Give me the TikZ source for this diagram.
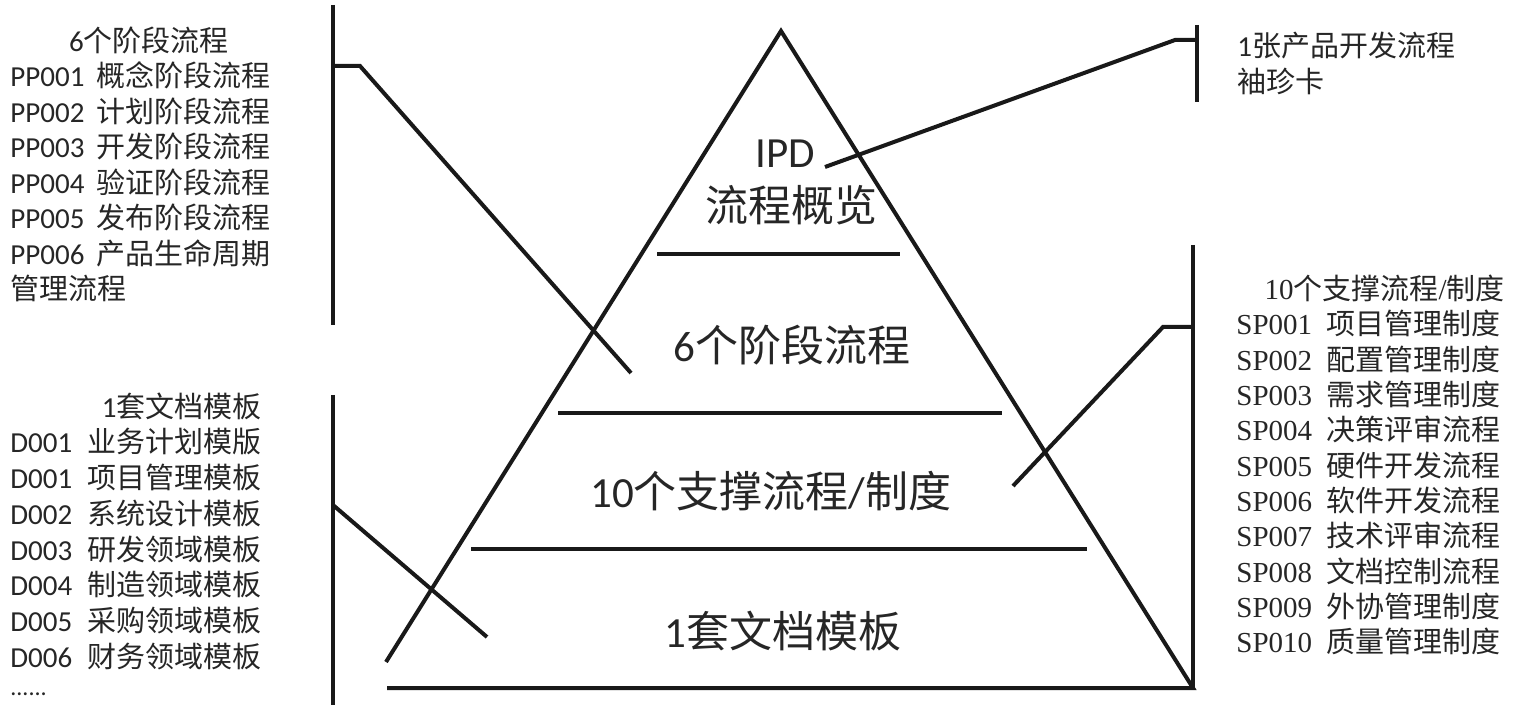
\documentclass[tikz,border=0pt]{standalone}
\usepackage{fontspec}
\setmainfont{Noto Sans CJK SC}
\newfontfamily\lat{Carlito}
\newfontfamily\tms{Liberation Serif}
\begin{document}
\begin{tikzpicture}[x=0.5pt,y=-0.5pt,
  ln/.style={line width=2pt, line cap=butt, line join=miter, draw=black!90},
  lst/.style={inner sep=0pt, anchor=base west, font=\fontsize{14.5}{17}\selectfont, text=black!85},
  big/.style={inner sep=0pt, anchor=base, font=\fontsize{21.5}{25}\selectfont, text=black!85}]
\useasboundingbox (0,0) rectangle (1522,705);

% pyramid
\coordinate (apex) at (781,31);
\coordinate (lb) at (386,662);
\coordinate (bl) at (387,688);
\coordinate (br) at (1193,688);
\draw[ln] (lb) -- (apex) -- (br) -- (bl);
\coordinate (d1a) at (657,254); \coordinate (d1b) at (900,254);
\coordinate (d2a) at (558,413); \coordinate (d2b) at (1002,413);
\coordinate (d3a) at (471,549); \coordinate (d3b) at (1087,549);
\draw[ln] (d1a) -- (d1b);
\draw[ln] (d2a) -- (d2b);
\draw[ln] (d3a) -- (d3b);

% pyramid labels
\node[big] (ipd) at (785,168) {\lat IPD};
\node[big] (gl) at (791,222) {流程概览};
\node[big] (six) at (792,362) {{\lat 6}个阶段流程};
\node[big] (ten) at (771,508) {{\lat 10}个支撑流程{\lat /}制度};
\node[big] (one) at (783,647) {{\lat 1}套文档模板};

% brackets and connectors
\coordinate (ltA) at (333,5); \coordinate (ltB) at (333,325);
\coordinate (ltC) at (333,66); \coordinate (ltD) at (360,66);
\coordinate (ltE) at (631,373);
\draw[ln] (ltA) -- (ltB);
\draw[ln] (ltC) -- (ltD) -- (ltE);

\coordinate (lbA) at (333,395); \coordinate (lbB) at (333,705);
\coordinate (lbC) at (333,505); \coordinate (lbE) at (487,637);
\draw[ln] (lbA) -- (lbB);
\draw[ln] (lbC) -- (lbE);

\coordinate (rtA) at (1197,25); \coordinate (rtB) at (1197,102);
\coordinate (rtC) at (1197,40); \coordinate (rtD) at (1175,40);
\coordinate (rtE) at (825,167);
\draw[ln] (rtA) -- (rtB);
\draw[ln] (rtC) -- (rtD) -- (rtE);

\coordinate (rmA) at (1193,245);
\coordinate (rmC) at (1193,327); \coordinate (rmD) at (1163,327);
\coordinate (rmE) at (1013,486);
\draw[ln] (rmA) -- (br);
\draw[ln] (rmC) -- (rmD) -- (rmE);

% left top list
\node[lst, anchor=base] (pptitle) at (149,52) {{\lat 6}个阶段流程};
\foreach \c/\t [count=\i from 0] in {PP001/概念阶段流程, PP002/计划阶段流程, PP003/开发阶段流程, PP004/验证阶段流程, PP005/发布阶段流程, PP006/产品生命周期}{
  \node[lst] (ppc\i) at (10,87+35.5*\i) {\lat \c};
  \node[lst] (ppt\i) at (96,87+35.5*\i) {\t};
}
\node[lst] (pplast) at (10,300) {管理流程};

% left bottom list
\node[lst, anchor=base east] (dtitle) at (262,418) {{\lat 1}套文档模板};
\foreach \c/\t [count=\i from 0] in {D001/业务计划模版, D001/项目管理模板, D002/系统设计模板, D003/研发领域模板, D004/制造领域模板, D005/采购领域模板, D006/财务领域模板}{
  \node[lst] (dc\i) at (10,453+35.7*\i) {\lat \c};
  \node[lst] (dt\i) at (87,453+35.7*\i) {\t};
}
\node[lst, font=\fontsize{12}{14}\selectfont] (dots) at (10,696) {\lat ......};

% right top
\node[lst] (card1) at (1237,57) {{\lat 1}张产品开发流程};
\node[lst] (card2) at (1237,93) {袖珍卡};

% right list
\node[lst, anchor=base east] (sptitle) at (1505,300) {{\tms 10}个支撑流程{\tms /}制度};
\foreach \c/\t [count=\i from 0] in {SP001/项目管理制度, SP002/配置管理制度, SP003/需求管理制度, SP004/决策评审流程, SP005/硬件开发流程, SP006/软件开发流程, SP007/技术评审流程, SP008/文档控制流程, SP009/外协管理制度, SP010/质量管理制度}{
  \node[lst] (spc\i) at (1236,335+35.3*\i) {\tms \c};
  \node[lst] (spt\i) at (1326,335+35.3*\i) {\t};
}
\end{tikzpicture}
\end{document}
